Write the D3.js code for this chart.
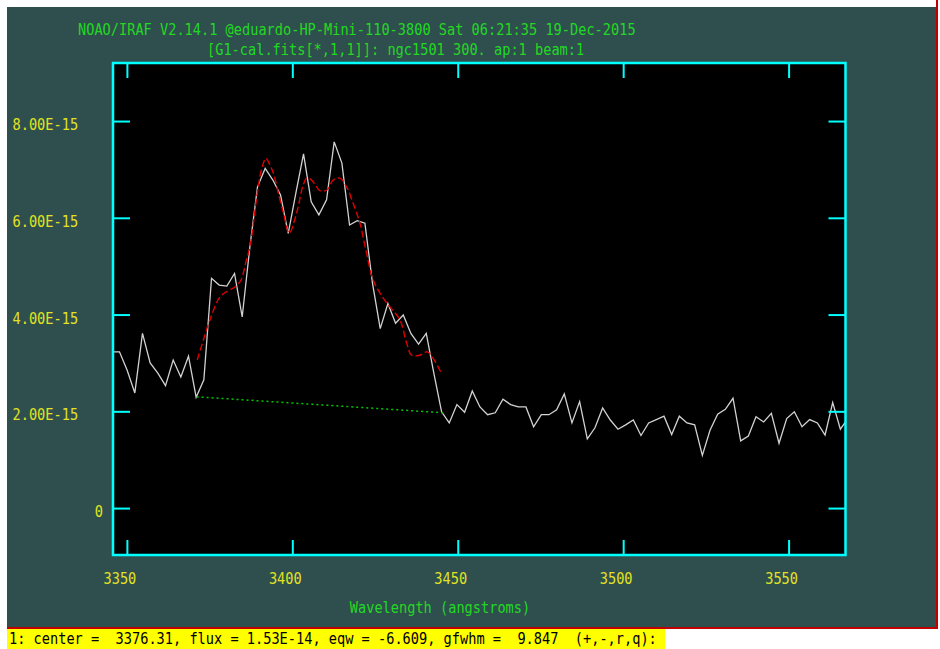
<!DOCTYPE html>
<html>
<head>
<meta charset="utf-8">
<script src="https://cdn.jsdelivr.net/npm/d3@7"></script>
<style>
  body { margin: 0; background: #fff; }
  svg { display: block; }
  text { font-family: "DejaVu Sans Mono", "Liberation Mono", monospace; font-size: 15.5px; }
</style>
</head>
<body>
<div id="chart"></div>
<script>
// spectrum ngc1501, flux in units of 1E-15
let wavelengths = [3345.44, 3347.76, 3350.08, 3352.40, 3354.71, 3357.03, 3359.35, 3361.67, 3363.99, 3366.30,
    3368.62, 3370.94, 3373.26, 3375.58, 3377.89, 3380.21, 3382.53, 3384.85, 3387.17, 3389.48,
    3391.80, 3394.12, 3396.44, 3398.76, 3401.07, 3403.39, 3405.71, 3408.03, 3410.35, 3412.66,
    3414.98, 3417.30, 3419.62, 3421.94, 3424.25, 3426.57, 3428.89, 3431.21, 3433.53, 3435.84,
    3438.16, 3440.48, 3442.80, 3445.12, 3447.43, 3449.75, 3452.07, 3454.39, 3456.71, 3459.02,
    3461.34, 3463.66, 3465.98, 3468.30, 3470.61, 3472.93, 3475.25, 3477.57, 3479.89, 3482.20,
    3484.52, 3486.84, 3489.16, 3491.48, 3493.79, 3496.11, 3498.43, 3500.75, 3503.07, 3505.38,
    3507.70, 3510.02, 3512.34, 3514.66, 3516.97, 3519.29, 3521.61, 3523.93, 3526.25, 3528.56,
    3530.88, 3533.20, 3535.52, 3537.84, 3540.15, 3542.47, 3544.79, 3547.11, 3549.43, 3551.74,
    3554.06, 3556.38, 3558.70, 3561.02, 3563.33, 3565.65, 3567.97];
let flux = [3.23, 3.23, 2.85, 2.38, 3.61, 3.00, 2.79, 2.53, 3.06, 2.71,
    3.14, 2.29, 2.65, 4.75, 4.61, 4.59, 4.85, 3.95, 5.40, 6.64,
    7.02, 6.78, 6.47, 5.68, 6.51, 7.32, 6.33, 6.06, 6.37, 7.57,
    7.13, 5.85, 5.94, 5.89, 4.64, 3.71, 4.23, 3.82, 3.99, 3.61,
    3.39, 3.61, 2.78, 1.99, 1.76, 2.14, 1.98, 2.42, 2.09, 1.93,
    1.97, 2.25, 2.14, 2.09, 2.09, 1.68, 1.93, 1.93, 2.03, 2.36,
    1.76, 2.20, 1.43, 1.66, 2.07, 1.82, 1.63, 1.72, 1.82, 1.50,
    1.76, 1.83, 1.90, 1.52, 1.90, 1.76, 1.72, 1.09, 1.61, 1.94,
    2.04, 2.27, 1.39, 1.49, 1.89, 1.78, 1.96, 1.34, 1.85, 1.99,
    1.68, 1.83, 1.76, 1.51, 2.18, 1.63, 1.86];

// deblended gaussian fit (red dashed)
let fitWaves = [3371.25, 3373.28, 3375.09, 3378.11, 3380.53, 3382.65, 3384.46, 3385.97, 3387.18, 3389.69,
    3390.81, 3392.02, 3393.23, 3394.23, 3396.04, 3397.46, 3399.06, 3401.30, 3403.30, 3404.41,
    3405.84, 3407.13, 3408.34, 3410.37, 3412.36, 3414.39, 3416.41, 3418.23, 3420.43, 3422.25,
    3424.46, 3427.48, 3429.50, 3432.53, 3434.55, 3436.06, 3438.57, 3440.78, 3442.59, 3445.13];
let fitFlux = [3.06, 3.51, 3.89, 4.36, 4.49, 4.57, 4.71, 5.09, 5.40, 6.64,
    7.03, 7.23, 7.09, 6.93, 6.44, 6.06, 5.68, 6.10, 6.68, 6.82,
    6.78, 6.66, 6.56, 6.57, 6.78, 6.82, 6.64, 6.33, 5.89, 5.33,
    4.71, 4.34, 4.16, 3.89, 3.41, 3.16, 3.16, 3.23, 3.09, 2.78];

// continuum (green dotted)
let contWaves = [3371.07, 3445.6];
let contFlux = [2.30, 1.97];

let xTicks = [3350, 3400, 3450, 3500, 3550];
let yTicks = [0, 2, 4, 6, 8];

let titleLines = ['NOAO/IRAF V2.14.1 @eduardo-HP-Mini-110-3800 Sat 06:21:35 19-Dec-2015',
    '[G1-cal.fits[*,1,1]]: ngc1501 300. ap:1 beam:1'];
let xTitle = 'Wavelength (angstroms)';
let statusLine = '1: center =  3376.31, flux = 1.53E-14, eqw = -6.609, gfwhm =  9.847  (+,-,r,q):';

let width = 940,
    height = 649,
    charW = 8.2;

let margin = { left: 113, right: 845.5, top: 63, bottom: 555 };

let svg = d3.select('#chart').append('svg')
    .attr('width', width)
    .attr('height', height);

let x = d3.scaleLinear().domain([3345.8, 3567.2]).range([margin.left, margin.right]);
let y = d3.scaleLinear().domain([-0.97, 9.2]).range([margin.bottom, margin.top]);

// window background
svg.append('rect').attr('x', 7).attr('y', 7).attr('width', 929).attr('height', 621).style('fill', '#2f4f4f');
svg.append('line').attr('x1', 937).attr('x2', 937).attr('y1', 0).attr('y2', 629)
    .style('stroke', '#c00000').style('stroke-width', 2);
svg.append('line').attr('x1', 7).attr('x2', 938).attr('y1', 628).attr('y2', 628)
    .style('stroke', '#c00000').style('stroke-width', 2);

// plot area
svg.append('rect')
    .attr('x', margin.left).attr('y', margin.top)
    .attr('width', margin.right - margin.left).attr('height', margin.bottom - margin.top)
    .style('fill', '#000');

svg.append('clipPath').attr('id', 'clip').append('rect')
    .attr('x', margin.left).attr('y', margin.top)
    .attr('width', margin.right - margin.left).attr('height', margin.bottom - margin.top);

function addText(str, tx, ty, anchor, color) {
    return svg.append('text')
        .attr('x', tx).attr('y', ty)
        .attr('text-anchor', anchor)
        .attr('textLength', str.length * charW)
        .attr('lengthAdjust', 'spacingAndGlyphs')
        .style('fill', color)
        .style('white-space', 'pre')
        .text(str);
}

// titles
addText(titleLines[0], 78, 35, 'start', '#22d822');
addText(titleLines[1], 207, 55, 'start', '#22d822');

// spectrum
let plot = svg.append('g').attr('clip-path', 'url(#clip)');

let specData = wavelengths.map(function(w, i) { return [w, flux[i]]; });
let fitData = fitWaves.map(function(w, i) { return [w, fitFlux[i]]; });
let contData = contWaves.map(function(w, i) { return [w, contFlux[i]]; });

let line = d3.line()
    .x(function(d) { return x(d[0]); })
    .y(function(d) { return y(d[1]); });

plot.append('path')
    .datum(specData)
    .attr('d', line)
    .style('fill', 'none')
    .style('stroke', '#d2d2d2')
    .style('stroke-width', 1.3);

plot.append('path')
    .datum(fitData)
    .attr('d', line.curve(d3.curveCatmullRom))
    .style('fill', 'none')
    .style('stroke', '#e00000')
    .style('stroke-width', 1.4)
    .style('stroke-dasharray', '7,3');

line.curve(d3.curveLinear);

plot.append('path')
    .datum(contData)
    .attr('d', line)
    .style('fill', 'none')
    .style('stroke', '#00c800')
    .style('stroke-width', 1.5)
    .style('stroke-dasharray', '2,3');

// axes: inward ticks on all four sides
let axisStyle = function(g) {
    g.select('.domain').remove();
    g.selectAll('text').remove();
    g.selectAll('.tick line').style('stroke', '#00ffff').style('stroke-width', 2);
};

svg.append('g').attr('transform', 'translate(' + margin.left + ',0)')
    .call(d3.axisLeft(y).tickValues(yTicks).tickSize(-17)).call(axisStyle);
svg.append('g').attr('transform', 'translate(' + margin.right + ',0)')
    .call(d3.axisRight(y).tickValues(yTicks).tickSize(-17)).call(axisStyle);
svg.append('g').attr('transform', 'translate(0,' + margin.bottom + ')')
    .call(d3.axisBottom(x).tickValues(xTicks).tickSize(-15)).call(axisStyle);
svg.append('g').attr('transform', 'translate(0,' + margin.top + ')')
    .call(d3.axisTop(x).tickValues(xTicks).tickSize(-15)).call(axisStyle);

// frame
svg.append('rect')
    .attr('x', margin.left).attr('y', margin.top)
    .attr('width', margin.right - margin.left).attr('height', margin.bottom - margin.top)
    .style('fill', 'none')
    .style('stroke', '#00ffff')
    .style('stroke-width', 2.5);

// tick labels
yTicks.forEach(function(v) {
    if (v == 0) {
        addText('0', 103, y(v) + 9, 'end', '#e2e222');
    } else {
        let s = (v * 1e-15).toExponential(2).toUpperCase();
        addText(s, 12.5, y(v) + 9, 'start', '#e2e222');
    }
});

xTicks.forEach(function(v) {
    addText(String(v), x(v) - 7, 584, 'middle', '#e2e222');
});

addText(xTitle, 440, 613, 'middle', '#22d822');

// status bar
svg.append('rect').attr('x', 7).attr('y', 629).attr('width', 658).attr('height', 20).style('fill', '#ffff00');
addText(statusLine, 9, 644, 'start', '#000');
</script>
</body>
</html>
